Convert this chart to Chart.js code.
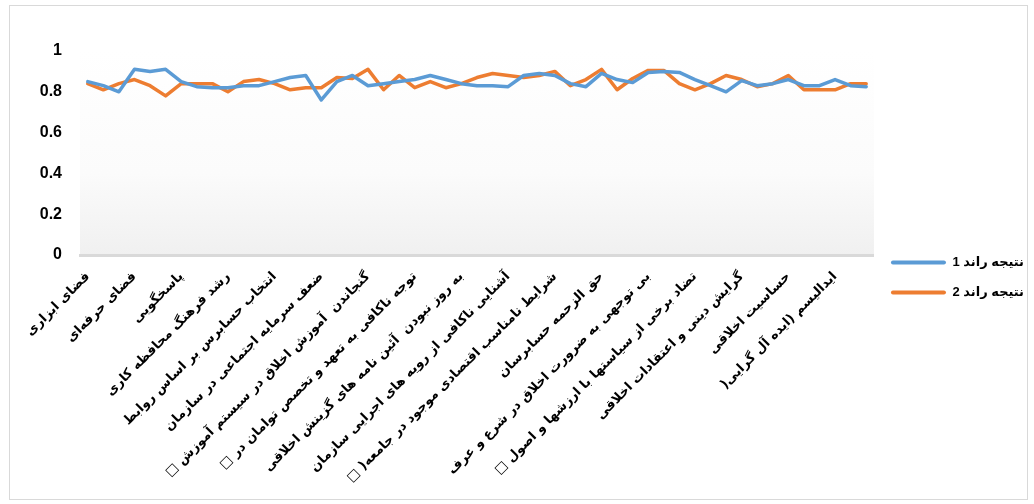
<!DOCTYPE html>
<html>
<head>
<meta charset="utf-8">
<script src="https://cdn.jsdelivr.net/npm/chart.js@4/dist/chart.umd.min.js"></script>
<style>
  html, body { margin: 0; padding: 0; background: #ffffff; }
  #wrap { width: 1034px; height: 504px; position: relative; }
  canvas { direction: rtl; }
</style>
</head>
<body>
<div id="wrap"><canvas id="c" width="1034" height="504"></canvas></div>
<script>
// Category labels that are legible in the reference (every third category is labelled)
const shownLabels = [
  'فضای ابزاری',
  'فضای حرفه‌ای',
  'پاسخگویی',
  'رشد فرهنگ محافظه کاری',
  'انتخاب حسابرس بر اساس روابط',
  'ضعف سرمایه اجتماعی در سازمان',
  'گنجاندن  آموزش اخلاق در سیستم آموزش □',
  'توجه ناکافی به تعهد و تخصص توامان در □',
  'به روز نبودن  آئین نامه های گزینش اخلاقی',
  'آشنایی ناکافی از رویه های اجرایی سازمان',
  'شرایط نامناسب اقتصادی موجود در جامعه( □',
  'حق الزحمه حسابرسان',
  'بی توجهی به ضرورت اخلاق در شرع و عرف',
  'تضاد برخی از سیاستها با ارزشها و اصول □',
  'گرایش دینی و اعتقادات اخلاقی',
  'حساسیت اخلاقی',
  'ایدالیسم (ایده آل گرایی('
];
const labelStep = 3;
const categoryCount = 51;
// categories: unlabelled categories in the reference are left blank
const categories = Array.from({ length: categoryCount }, (_, i) =>
  i % labelStep === 0 ? shownLabels[i / labelStep] : '');

const round1 = [
  0.85, 0.83, 0.80, 0.91, 0.90, 0.91, 0.85, 0.825, 0.82, 0.82,
  0.83, 0.83, 0.85, 0.87, 0.88, 0.76, 0.85, 0.88, 0.83, 0.84,
  0.85, 0.86, 0.88, 0.86, 0.84, 0.83, 0.83, 0.825, 0.88, 0.89,
  0.88, 0.84, 0.825, 0.89, 0.86, 0.845, 0.895, 0.90, 0.895, 0.86,
  0.83, 0.80, 0.855, 0.83, 0.84, 0.86, 0.83, 0.83, 0.86, 0.83,
  0.825
];
const round2 = [
  0.84, 0.81, 0.84, 0.86, 0.83, 0.78, 0.84, 0.84, 0.84, 0.80,
  0.85, 0.86, 0.84, 0.81, 0.82, 0.82, 0.87, 0.865, 0.91, 0.81,
  0.88, 0.82, 0.85, 0.82, 0.84, 0.87, 0.89, 0.88, 0.87, 0.88,
  0.90, 0.83, 0.86, 0.91, 0.81, 0.865, 0.905, 0.905, 0.84, 0.81,
  0.84, 0.88, 0.86, 0.825, 0.84, 0.88, 0.81, 0.81, 0.81, 0.84,
  0.84
];
const seriesNames = ['نتیجه راند 1', 'نتیجه راند 2'];
const yTickLabels = ['0', '0.2', '0.4', '0.6', '0.8', '1'];

const backdrop = {
  id: 'backdrop',
  beforeDraw(chart) {
    const { ctx, chartArea: a } = chart;
    ctx.save();
    ctx.fillStyle = '#ffffff';
    ctx.fillRect(0, 0, chart.width, chart.height);
    ctx.strokeStyle = '#d9d9d9';
    ctx.lineWidth = 1;
    ctx.strokeRect(9.5, 5.5, 1018, 494);
    const g = ctx.createLinearGradient(0, a.top, 0, a.bottom);
    g.addColorStop(0, '#ffffff');
    g.addColorStop(0.6, '#fbfbfb');
    g.addColorStop(1, '#f0f0f0');
    ctx.fillStyle = g;
    ctx.fillRect(a.left, a.top, a.right - a.left, a.bottom - a.top);
    ctx.restore();
  }
};

new Chart(document.getElementById('c'), {
  type: 'line',
  data: {
    labels: categories,
    datasets: [
      { label: seriesNames[0], data: round1, borderColor: '#5b9bd5', backgroundColor: '#5b9bd5',
        borderWidth: 3.5, pointRadius: 0, tension: 0, fill: false, borderJoinStyle: 'round', borderCapStyle: 'round' },
      { label: seriesNames[1], data: round2, borderColor: '#ed7d31', backgroundColor: '#ed7d31',
        borderWidth: 3.5, pointRadius: 0, tension: 0, fill: false, borderJoinStyle: 'round', borderCapStyle: 'round' }
    ]
  },
  options: {
    responsive: false,
    devicePixelRatio: 1,
    animation: false,
    layout: { padding: { top: 51, right: 0, bottom: 0, left: 0 } },
    plugins: {
      tooltip: { enabled: false },
      legend: {
        position: 'right',
        labels: {
          boxWidth: 55,
          boxHeight: 4,
          padding: 17,
          color: '#000000',
          font: { family: 'Liberation Sans, DejaVu Sans', size: 13, weight: 'bold' },
          generateLabels(chart) {
            return Chart.defaults.plugins.legend.labels.generateLabels(chart).map(it => ({ ...it, lineWidth: 0, borderRadius: 2 }));
          }
        }
      }
    },
    scales: {
      x: {
        offset: true,
        grid: { display: false },
        border: { display: true, color: '#d9d9d9', width: 3 },
        ticks: {
          autoSkip: false,
          maxRotation: 45,
          minRotation: 45,
          padding: 6,
          color: '#000000',
          font: { family: 'DejaVu Sans', size: 13, weight: 'bold' }
        },
        afterFit(scale) { scale.height = 249; }
      },
      y: {
        min: 0,
        max: 1,
        grid: { display: false },
        border: { display: false },
        ticks: {
          stepSize: 0.2,
          padding: 10,
          color: '#000000',
          font: { family: 'Liberation Sans', size: 16, weight: 'bold' },
          callback: (v, i) => yTickLabels[i]
        },
        afterFit(scale) { scale.width = 80; }
      }
    }
  },
  plugins: [backdrop]
});
</script>
</body>
</html>
